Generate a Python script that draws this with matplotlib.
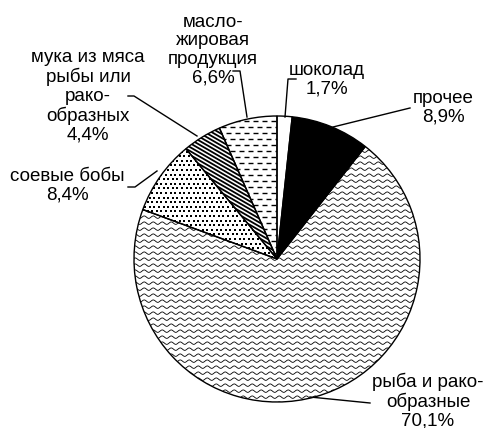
import numpy as np
import matplotlib
matplotlib.use('Agg')
from matplotlib import pyplot as plt
from matplotlib.collections import LineCollection

plt.rcParams['font.family'] = ['Liberation Sans', 'DejaVu Sans']

# data
labels = ['шоколад\n1,7%', 'прочее\n8,9%', 'рыба и рако-\nобразные\n70,1%',
          'соевые бобы\n8,4%', 'мука из мяса\nрыбы или\nрако-\nобразных\n4,4%',
          'масло-\nжировая\nпродукция\n6,6%']
values = [1.7, 8.9, 70.1, 8.4, 4.4, 6.6]
fills = ['none', 'black', 'wave', 'dots', 'stripes', 'dashes']

# label centres and leader lines, in image pixels
label_pos = [(327, 80), (443, 108), (428, 401), (67, 186), (88, 96), (213, 50)]
leaders = [
    [(296, 79), (288, 79), (285, 117)],
    [(410, 108), (333, 127)],
    [(370, 403), (310, 397)],
    [(128, 187), (135, 187), (157, 171)],
    [(128, 96), (134, 96), (197, 136)],
    [(233, 71), (240, 71), (247, 117)],
]

W, H = 485, 428
fig = plt.figure(figsize=(W / 100, H / 100), dpi=100)
cx, cy, r = 277, 259, 143
ax = fig.add_axes([(cx - r) / W, 1 - (cy + r) / H, 2 * r / W, 2 * r / H])
px = 1.0 / r  # one pixel in pie units

wedges, _ = ax.pie(values, startangle=90, counterclock=False, radius=1,
                   colors=['white'] * len(values),
                   wedgeprops=dict(edgecolor='none', linewidth=0))


def clip_add(coll, w):
    coll.set_clip_path(w)
    ax.add_collection(coll)


for w, f in zip(wedges, fills):
    if f == 'black':
        w.set_facecolor('black')
    elif f == 'wave':
        xs = np.linspace(-1.05, 1.05, 900)
        segs = []
        for y0 in np.arange(-1.05, 1.05, 6 * px):
            segs.append(np.column_stack([xs, y0 + 1.2 * px * np.sin(2 * np.pi * xs / (9 * px))]))
        clip_add(LineCollection(segs, colors='black', linewidths=0.6), w)
    elif f == 'dots':
        pts = []
        for i, y0 in enumerate(np.arange(-1.05, 1.05, 4.6 * px)):
            off = (i % 2) * 2.3 * px
            for x0 in np.arange(-1.05, 1.05, 4.6 * px):
                pts.append((x0 + off, y0))
        pts = np.array(pts)
        sc = ax.scatter(pts[:, 0], pts[:, 1], s=0.6, marker='s', c='black', linewidths=0)
        sc.set_clip_path(w)
    elif f == 'stripes':
        ang = np.radians(-30)
        d = np.array([np.cos(ang), np.sin(ang)])
        n = np.array([-d[1], d[0]])
        segs = []
        for t in np.arange(-1.6, 1.6, 3.4 * px):
            p = n * t
            segs.append([p - 2 * d, p + 2 * d])
        clip_add(LineCollection(segs, colors='black', linewidths=1.3), w)
    elif f == 'dashes':
        segs = []
        for i, y0 in enumerate(np.arange(-1.05, 1.05, 6 * px)):
            off = (i % 2) * 4.5 * px
            for x0 in np.arange(-1.05, 1.05, 9 * px):
                segs.append([(x0 + off, y0), (x0 + off + 5 * px, y0)])
        clip_add(LineCollection(segs, colors='black', linewidths=1.0), w)

# outlines on top
ax.pie(values, startangle=90, counterclock=False, radius=1,
       wedgeprops=dict(fill=False, edgecolor='black', linewidth=1.0))
ax.set_xlim(-1, 1)
ax.set_ylim(-1, 1)

# labels and leaders in pixel space
ov = fig.add_axes([0, 0, 1, 1])
ov.set_xlim(0, W)
ov.set_ylim(H, 0)
ov.axis('off')
for lab, (x, y), ln in zip(labels, label_pos, leaders):
    ov.text(x, y, lab, ha='center', va='center', fontsize=13.5, linespacing=1.12)
    ln = np.array(ln)
    ov.plot(ln[:, 0], ln[:, 1], color='black', lw=1.0)

fig.savefig('out.png', dpi=100)
